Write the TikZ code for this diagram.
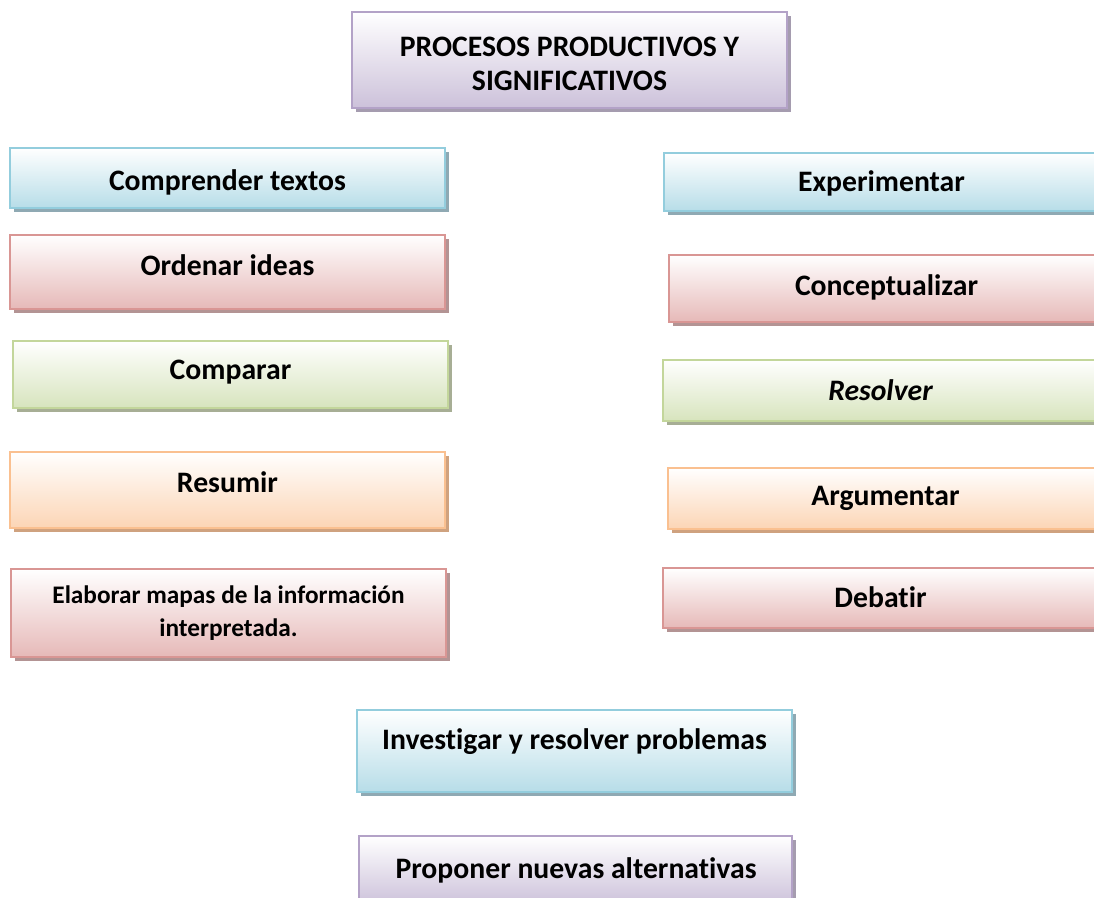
\documentclass[tikz,border=0pt]{standalone}
\usepackage{fontspec}
\setmainfont[RawFeature=-liga]{Carlito}
\usetikzlibrary{shadows}
\definecolor{bB}{HTML}{93CDDD}\definecolor{fB}{HTML}{B7DDE8}\definecolor{sB}{HTML}{8FA9B3}
\definecolor{bR}{HTML}{D99694}\definecolor{fR}{HTML}{E6B9B8}\definecolor{sR}{HTML}{B39494}
\definecolor{bG}{HTML}{C3D69B}\definecolor{fG}{HTML}{D7E4BD}\definecolor{sG}{HTML}{A7AE95}
\definecolor{bO}{HTML}{FAC090}\definecolor{fO}{HTML}{FCD5B5}\definecolor{sO}{HTML}{CFA27F}
\definecolor{bP}{HTML}{B3A2C7}\definecolor{fP}{HTML}{CCC1DA}\definecolor{sP}{HTML}{A59CAF}
\tikzset{
  x=1pt, y=-1pt,
  boxbase/.style={rectangle, inner sep=0pt, line width=2pt},
  boxblue/.style={boxbase, draw=bB, top color=white, bottom color=fB, general shadow={fill=sB, shadow xshift=4pt, shadow yshift=-4pt}},
  boxred/.style={boxbase, draw=bR, top color=white, bottom color=fR, general shadow={fill=sR, shadow xshift=4pt, shadow yshift=-4pt}},
  boxgreen/.style={boxbase, draw=bG, top color=white, bottom color=fG, general shadow={fill=sG, shadow xshift=4pt, shadow yshift=-4pt}},
  boxorange/.style={boxbase, draw=bO, top color=white, bottom color=fO, general shadow={fill=sO, shadow xshift=4pt, shadow yshift=-4pt}},
  boxpurple/.style={boxbase, draw=bP, top color=white, bottom color=fP, general shadow={fill=sP, shadow xshift=4pt, shadow yshift=-4pt}},
  lbl/.style={inner sep=0pt, align=center, font=\fontsize{29.7}{34}\selectfont\bfseries},
  lblsmall/.style={inner sep=0pt, align=center, font=\fontsize{25.3}{33}\selectfont\bfseries},
}
\newcommand{\mybox}[6]{% style, name, left, top, right, bottom
  \node[#1, minimum width={#5-#3}, minimum height={#6-#4}] (#2) at ({(#3+#5)/2},{(#4+#6)/2}) {};}
\begin{document}
\begin{tikzpicture}
\useasboundingbox (0,0) rectangle (1094,897);
\clip (0,0) rectangle (1094,897);
\fill[white] (0,0) rectangle (1094,897);
% boxes
\mybox{boxpurple}{title}{352}{12}{787}{108}
\mybox{boxblue}{comp}{10}{148}{445}{208}
\mybox{boxred}{orde}{10}{235}{445}{309}
\mybox{boxgreen}{cmpr}{13}{341}{448}{408}
\mybox{boxorange}{resu}{10}{452}{445}{528}
\mybox{boxred}{elab}{11}{569}{446}{657}
\mybox{boxblue}{expe}{664}{153}{1099}{211}
\mybox{boxred}{conc}{669}{255}{1104}{322}
\mybox{boxgreen}{reso}{663}{360}{1098}{421}
\mybox{boxorange}{argu}{668}{468}{1103}{529}
\mybox{boxred}{deba}{663}{568}{1098}{628}
\mybox{boxblue}{inve}{357}{710}{792}{792}
\mybox{boxpurple}{prop}{359}{836}{792}{905}
% labels
\node[lbl] (ttitle) at (569.5,63.5) {PROCESOS PRODUCTIVOS Y\\SIGNIFICATIVOS};
\node[lbl] (tcomp) at (227.5,182) {Comprender textos};
\node[lbl] (torde) at (227.5,265) {Ordenar ideas};
\node[lbl] (tcmpr) at (230.5,372) {Comparar};
\node[lbl] (tresu) at (227.5,482) {Resumir};
\node[lblsmall] (telab) at (228.5,613.5) {Elaborar mapas de la información\\interpretada.};
\node[lbl] (texpe) at (881.5,183) {Experimentar};
\node[lbl] (tconc) at (886.5,287) {Conceptualizar};
\node[lbl, font=\fontsize{29.7}{34}\selectfont\bfseries\itshape] (treso) at (880.5,390) {Resolver};
\node[lbl] (targu) at (885.5,498) {Argumentar};
\node[lbl] (tdeba) at (880.5,597) {Debatir};
\node[lbl] (tinve) at (574.5,742) {Investigar y resolver problemas};
\node[lbl] (tprop) at (576,870) {Proponer nuevas alternativas};
\end{tikzpicture}
\end{document}
